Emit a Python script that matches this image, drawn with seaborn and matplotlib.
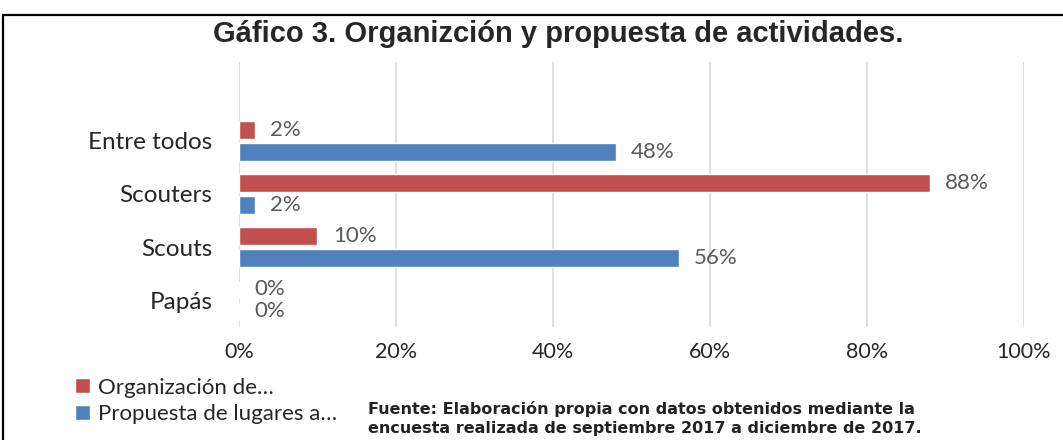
import numpy as np
import pandas as pd
import seaborn as sns
import matplotlib.pyplot as plt
from matplotlib.patches import Patch, Rectangle

# data
categorias = ['Entre todos', 'Scouters', 'Scouts', 'Papás']
organizacion = [2, 88, 10, 0]
propuesta = [48, 2, 56, 0]
series = ['Organización de…', 'Propuesta de lugares a…']
colores = ['#C0504D', '#4F81BD']
ticks = [0, 20, 40, 60, 80, 100]

df = pd.DataFrame({
    'categoria': categorias * 2,
    'valor': organizacion + propuesta,
    'serie': [series[0]] * 4 + [series[1]] * 4,
})

sns.set_style('white')
plt.rcParams['font.family'] = ['Lato', 'DejaVu Sans']

fig = plt.figure(figsize=(10.63, 4.40), dpi=100)
ax = fig.add_axes([0.2248, 0.257, 0.7385, 0.602])

sns.barplot(data=df, x='valor', y='categoria', hue='serie', order=categorias,
            hue_order=series, palette=colores, orient='h', width=0.825, gap=0.2,
            saturation=1, ax=ax, legend=False)

for cont in ax.containers:
    ax.bar_label(cont, fmt='%d%%', padding=11, fontsize=16, color='#595959')

ax.set_xlim(0, 100)
ax.set_ylim(3.5, -1.48)
ax.set_xticks(ticks)
ax.set_xticklabels([f'{t}%' for t in ticks], fontsize=15.5)
ax.tick_params(axis='x', length=0, pad=11)
ax.tick_params(axis='y', length=0, pad=19, labelsize=17.5)
ax.set_xlabel('')
ax.set_ylabel('')
ax.grid(axis='x', color='#D9D9D9', linewidth=1.2)
ax.set_axisbelow(True)
for s in ax.spines.values():
    s.set_visible(False)

fig.text(0.525, 0.922, 'Gáfico 3. Organizción y propuesta de actividades.',
         ha='center', va='center', fontsize=21, fontweight='bold',
         family='Liberation Sans')

handles = [Patch(facecolor=c) for c in colores]
fig.legend(handles, series, loc='upper left', bbox_to_anchor=(0.071, 0.142),
           frameon=False, fontsize=16, handlelength=0.65, handleheight=0.65,
           handletextpad=0.35, labelspacing=0.3, borderaxespad=0, borderpad=0)

fig.text(0.346, 0.058, 'Fuente: Elaboración propia con datos obtenidos mediante la',
         fontsize=11.5, fontweight='bold', color='#222222', family='DejaVu Sans')
fig.text(0.346, 0.015, 'encuesta realizada de septiembre 2017 a diciembre de 2017.',
         fontsize=11.5, fontweight='bold', color='#222222', family='DejaVu Sans')

fig.patches.append(Rectangle((3 / 1063, -0.05), 1.2, 0.05 + 1 - 15 / 440,
                             transform=fig.transFigure, fill=False,
                             edgecolor='black', linewidth=1.6))

fig.savefig('out.png', dpi=100)
